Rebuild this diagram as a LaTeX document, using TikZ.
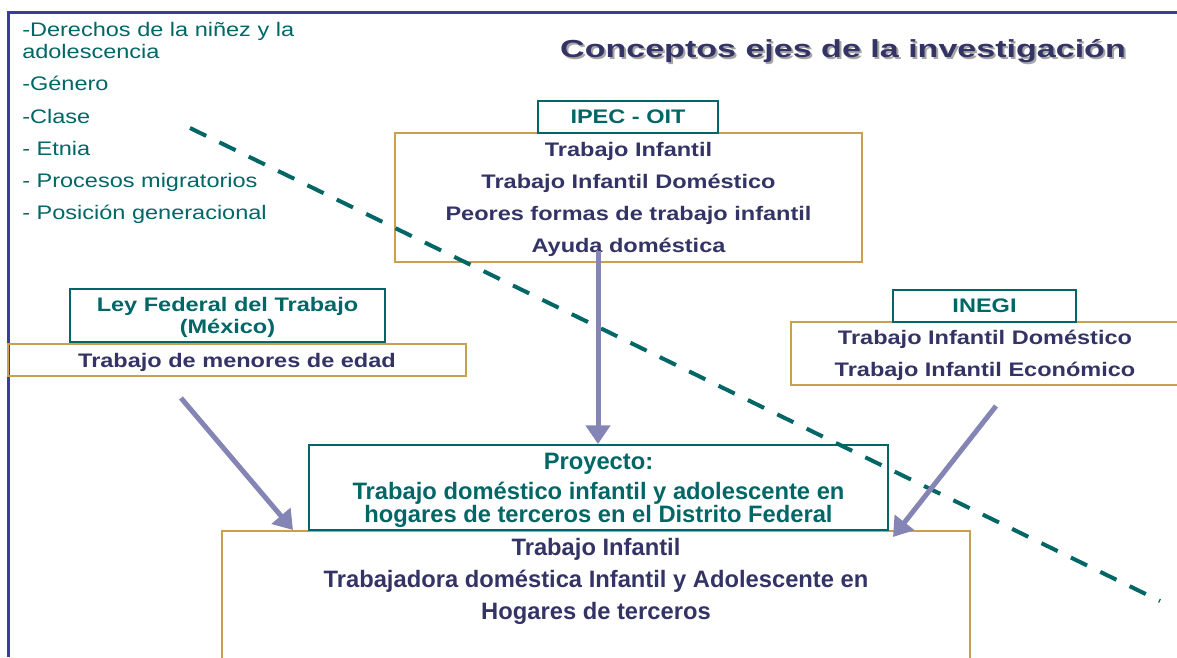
\documentclass[tikz,border=0pt]{standalone}
\usepackage{fontspec}
\setmainfont{Liberation Sans}
\newfontfamily\widefont{Liberation Sans}[FakeStretch=1.2]
\newfontfamily\titlefont{Liberation Sans}[FakeStretch=1.38]
\usetikzlibrary{arrows.meta}
\usetikzlibrary{positioning}
\definecolor{ejeteal}{RGB}{0,102,102}
\definecolor{ejenavy}{RGB}{51,51,102}
\definecolor{ejegold}{RGB}{200,160,80}
\definecolor{ejelila}{RGB}{133,133,181}
\definecolor{ejeblue}{RGB}{60,60,160}
\tikzset{headbox/.style = {draw=ejeteal, line width=1.5pt, fill=white,
                           text=ejeteal, inner sep=0pt, align=center, text depth=-1.5pt,
                           font=\widefont\bfseries\fontsize{14.7}{16.5}\selectfont}}
\tikzset{listbox/.style = {draw=ejegold, line width=1.5pt, text=ejenavy,
                           inner sep=0pt, align=center, text depth=-1.5pt,
                           font=\widefont\bfseries\fontsize{14.7}{24}\selectfont}}
\tikzset{flow/.style = {draw=ejelila, line width=3.75pt,
                        -{Triangle[width=18pt,length=14pt]}}}
\tikzset{cut/.style = {draw=ejeteal, line width=3pt,
                       dash pattern=on 13.5pt off 11pt}}

\begin{document}
\begin{tikzpicture}[x=0.75pt, y=-0.75pt]
    \clip (0, 0) rectangle (1177, 657);
    % frame
    \draw [ejeblue, line width=2.25pt] (8, 657) -- (8, 12) -- (1177, 12);
    % title
    \node [text=black!35, font=\titlefont\bfseries\fontsize{18.5}{22}\selectfont]
        (titulosombra) at (845, 53) {Conceptos ejes de la investigación};
    \node [text=ejenavy, font=\titlefont\bfseries\fontsize{18.5}{22}\selectfont]
        (titulo) at (843, 51) {Conceptos ejes de la investigación};
    % ejes
    \node [anchor=north west, text=ejeteal, align=left, inner sep=0pt,
           font=\widefont\fontsize{14.7}{16.5}\selectfont] (ejes) at (22, 22)
        {-Derechos de la niñez y la\\adolescencia\\[7.7pt]-Género\\[7.7pt]-Clase\\[7.7pt]- Etnia\\[7.7pt]- Procesos migratorios\\[7.7pt]- Posición generacional};
    % IPEC
    \node [listbox, minimum width=350.25pt, minimum height=96.75pt] (ipeclist) at (628.5, 197.5)
        {Trabajo Infantil\\Trabajo Infantil Doméstico\\Peores formas de trabajo infantil\\Ayuda doméstica};
    \node [headbox, minimum width=135pt, minimum height=24pt] (ipec) at (628, 117) {IPEC - OIT};
    % Ley Federal
    \node [listbox, minimum width=343.5pt, minimum height=24pt] (leylist) at (237, 360)
        {Trabajo de menores de edad};
    \node [headbox, minimum width=236.25pt, minimum height=39.75pt] (ley) at (227.5, 315.5)
        {Ley Federal del Trabajo\\(México)};
    % INEGI
    \node [listbox, minimum width=291pt, minimum height=47.25pt] (inegilist) at (985, 353.5)
        {Trabajo Infantil Doméstico\\Trabajo Infantil Económico};
    \node [headbox, minimum width=137.25pt, minimum height=24pt] (inegi) at (984.5, 306) {INEGI};
    % proyecto
    \node [listbox, anchor=north, minimum width=561pt, minimum height=127.5pt] (hogar) at (596, 530) {};
    \node [text=ejenavy, align=center, inner sep=0pt,
           font=\bfseries\fontsize{17.8}{24}\selectfont] (hogartxt) at (596, 581)
        {Trabajo Infantil\\Trabajadora doméstica Infantil y Adolescente en\\Hogares de terceros};
    \node [headbox, font=\bfseries\fontsize{17.8}{17.25}\selectfont,
           minimum width=434.25pt, minimum height=63.75pt] (proyecto) at (598.5, 487.5)
        {Proyecto:\\[5.25pt]Trabajo doméstico infantil y adolescente en\\hogares de terceros en el Distrito Federal};
    % dashed cut
    \coordinate (corte1) at (190, 128);
    \coordinate (corte2) at (1160, 601);
    \draw [cut] (corte1) -- (corte2);
    % arrows
    \coordinate (desdeipec) at (598, 251);
    \coordinate (desdeley) at (181, 398);
    \coordinate (haciahogar1) at (293, 530);
    \coordinate (desdeinegi) at (996, 406);
    \coordinate (haciahogar2) at (893, 537);
    \draw [flow] (desdeipec) -- (desdeipec |- proyecto.north);
    \draw [flow] (desdeley) -- (haciahogar1);
    \draw [flow] (desdeinegi) -- (haciahogar2);
\end{tikzpicture}
\end{document}
